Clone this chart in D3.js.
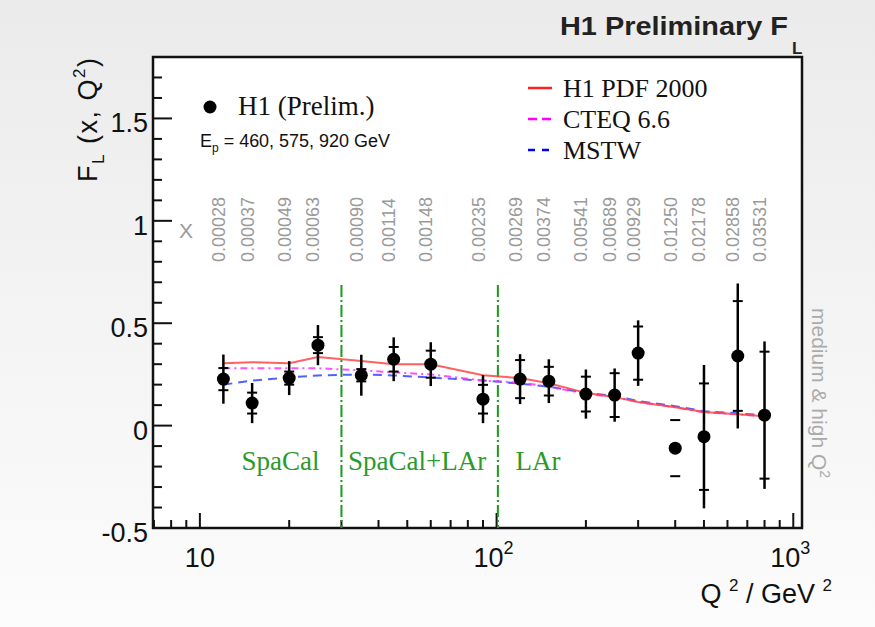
<!DOCTYPE html>
<html>
<head>
<meta charset="utf-8">
<script src="https://cdn.jsdelivr.net/npm/d3@7"></script>
<style>
  html, body { margin: 0; padding: 0; background: #f4f4f4; }
  svg { display: block; }
</style>
</head>
<body>
<svg id="chart" width="875" height="627"></svg>
<script>
// data
const q2 = [12, 15, 20, 25, 35, 45, 60, 90, 120, 150, 200, 250, 300, 400, 500, 650, 800];
const xLabels = ["0.00028", "0.00037", "0.00049", "0.00063", "0.00090", "0.00114", "0.00148",
  "0.00235", "0.00269", "0.00374", "0.00541", "0.00689", "0.00929", "0.01250", "0.02178",
  "0.02858", "0.03531"];
const fl = [0.227, 0.11, 0.232, 0.393, 0.246, 0.324, 0.30, 0.129, 0.227, 0.217, 0.154, 0.149,
  0.354, -0.11, -0.054, 0.34, 0.051];
const statErr = [0.054, 0.051, 0.032, 0.039, 0.03, 0.06, 0.066, 0.07, 0.093, 0.07, 0.085, 0.107,
  0.13, 0.137, 0.26, 0.268, 0.31];
const totErr = [0.12, 0.098, 0.083, 0.098, 0.10, 0.107, 0.107, 0.117, 0.122, 0.107, 0.12, 0.13,
  0.16, 0, 0.35, 0.354, 0.36];
const h1pdf = [0.305, 0.31, 0.305, 0.335, 0.315, 0.30, 0.30, 0.246, 0.232, 0.207, 0.16, 0.139,
  0.115, 0.09, 0.066, 0.056, 0.046];
const cteq = [0.28, 0.28, 0.28, 0.28, 0.27, 0.26, 0.25, 0.22, 0.21, 0.19, 0.155, 0.14, 0.115,
  0.09, 0.065, 0.055, 0.045];
const mstw = [0.20, 0.22, 0.235, 0.245, 0.25, 0.245, 0.235, 0.22, 0.205, 0.19, 0.16, 0.145,
  0.12, 0.095, 0.07, 0.06, 0.05];
const regionCuts = [30, 101];
const regions = [
  { name: "SpaCal", q: 18.7 },
  { name: "SpaCal+LAr", q: 54 },
  { name: "LAr", q: 138 },
];
const yTicks = [-0.5, 0, 0.5, 1, 1.5];

const svg = d3.select("#chart");
const W = 875, H = 627;
const frame = { left: 153, right: 802, top: 57, bottom: 528 };

const x = d3.scaleLog().domain([6.95, 1070]).range([frame.left, frame.right]);
const y = d3.scaleLinear().domain([-0.5, 1.8]).range([frame.bottom, frame.top]);

// background
const defs = svg.append("defs");
const grad = defs.append("linearGradient").attr("id", "bg")
  .attr("x1", 0).attr("y1", 0).attr("x2", 0).attr("y2", 1);
grad.append("stop").attr("offset", "0%").attr("stop-color", "#ebebeb");
grad.append("stop").attr("offset", "100%").attr("stop-color", "#fcfcfc");
svg.append("rect").attr("width", W).attr("height", H).attr("fill", "url(#bg)");
svg.append("rect")
  .attr("x", frame.left).attr("y", frame.top)
  .attr("width", frame.right - frame.left).attr("height", frame.bottom - frame.top)
  .attr("fill", "#fff");

// axes (ticks pointing inward)
const sans = "'Liberation Sans', Arial, Helvetica, sans-serif";
const serif = "'Liberation Serif', 'Times New Roman', serif";

const xMinor = [];
[1, 10, 100].forEach((d) => {
  for (let k = 2; k <= 9; k++) {
    const v = d * k;
    if (v > 6.95 && v < 1070) xMinor.push(v);
  }
});
svg.append("g").selectAll("line").data(xMinor).join("line")
  .attr("x1", (d) => x(d)).attr("x2", (d) => x(d))
  .attr("y1", frame.bottom).attr("y2", frame.bottom - 8)
  .attr("stroke", "#111").attr("stroke-width", 2);
svg.append("g").selectAll("line").data([10, 100, 1000]).join("line")
  .attr("x1", (d) => x(d)).attr("x2", (d) => x(d))
  .attr("y1", frame.bottom).attr("y2", frame.bottom - 15)
  .attr("stroke", "#111").attr("stroke-width", 2);

const yMinor = d3.range(-4, 18).map((k) => k / 10).filter((d) => Math.round(d * 10) % 5 !== 0);
svg.append("g").selectAll("line").data(yMinor).join("line")
  .attr("x1", frame.left).attr("x2", frame.left + 9)
  .attr("y1", (d) => y(d)).attr("y2", (d) => y(d))
  .attr("stroke", "#111").attr("stroke-width", 2);
svg.append("g").selectAll("line").data(yTicks).join("line")
  .attr("x1", frame.left).attr("x2", frame.left + 19)
  .attr("y1", (d) => y(d)).attr("y2", (d) => y(d))
  .attr("stroke", "#111").attr("stroke-width", 2);

svg.append("rect")
  .attr("x", frame.left).attr("y", frame.top)
  .attr("width", frame.right - frame.left).attr("height", frame.bottom - frame.top)
  .attr("fill", "none").attr("stroke", "#111").attr("stroke-width", 2.5);

// tick labels
svg.append("g").selectAll("text").data(yTicks).join("text")
  .attr("x", 148).attr("y", (d) => y(d) + 14)
  .attr("text-anchor", "end")
  .style("font-family", sans).style("font-size", "27px").style("fill", "#111")
  .text((d) => String(d));

const xl = svg.append("g").style("font-family", sans).style("fill", "#111");
xl.append("text").attr("x", x(10)).attr("y", 567).attr("text-anchor", "middle")
  .style("font-size", "27px").text("10");
[[100, "2"], [1000, "3"]].forEach(([v, e]) => {
  const t = xl.append("text").attr("x", x(v) - 3).attr("y", 567).attr("text-anchor", "middle")
    .style("font-size", "27px");
  t.append("tspan").text("10");
  t.append("tspan").attr("dy", -13).style("font-size", "18px").text(e);
});

// axis titles
const xt = svg.append("text").attr("x", 832).attr("y", 603).attr("text-anchor", "end")
  .style("font-family", sans).style("font-size", "27px").style("fill", "#111");
xt.append("tspan").text("Q ");
xt.append("tspan").attr("dy", -12).style("font-size", "17px").text("2");
xt.append("tspan").attr("dy", 12).text(" / GeV ");
xt.append("tspan").attr("dy", -12).style("font-size", "17px").text("2");

const yt = svg.append("text").attr("transform", "translate(97,58) rotate(-90)")
  .attr("text-anchor", "end")
  .attr("textLength", 124).attr("lengthAdjust", "spacing")
  .style("font-family", sans).style("font-size", "27px").style("fill", "#111");
yt.append("tspan").text("F");
yt.append("tspan").attr("dy", 7).style("font-size", "17px").text("L");
yt.append("tspan").attr("dy", -7).text(" (x, Q");
yt.append("tspan").attr("dy", -12).style("font-size", "17px").text("2");
yt.append("tspan").attr("dy", 12).text(")");

// title
svg.append("text").attr("x", 560).attr("y", 35)
  .attr("textLength", 228).attr("lengthAdjust", "spacingAndGlyphs")
  .style("font-family", sans).style("font-size", "25px").style("font-weight", "bold")
  .style("fill", "#222").text("H1 Preliminary F");
svg.append("text").attr("x", 792).attr("y", 54)
  .style("font-family", sans).style("font-size", "17px").style("font-weight", "bold")
  .style("fill", "#222").text("L");

// x values column
svg.append("text").attr("x", 186).attr("y", 238).attr("text-anchor", "middle")
  .style("font-family", sans).style("font-size", "21px").style("fill", "#9a9a9a").text("X");
svg.append("g").selectAll("text").data(xLabels).join("text")
  .attr("transform", (d, i) => `translate(${x(q2[i]) + 1.5},262) rotate(-90)`)
  .style("font-family", sans).style("font-size", "18px").style("fill", "#9a9a9a")
  .text((d) => d);

// right side note
const side = svg.append("text").attr("transform", "translate(812,308) rotate(90)")
  .style("font-family", sans).style("font-size", "21px").style("fill", "#aaa");
side.append("tspan").text("medium & high Q");
side.append("tspan").attr("dy", -8).style("font-size", "14px").text("2");

// region separators
svg.append("g").selectAll("line").data(regionCuts).join("line")
  .attr("x1", (d) => x(d)).attr("x2", (d) => x(d))
  .attr("y1", 285).attr("y2", frame.bottom)
  .attr("stroke", "#1a9a1a").attr("stroke-width", 2)
  .attr("stroke-dasharray", "12,3,2,3");
svg.append("g").selectAll("text").data(regions).join("text")
  .attr("x", (d) => x(d.q)).attr("y", 470).attr("text-anchor", "middle")
  .style("font-family", serif).style("font-size", "27px").style("fill", "#2a9a2a")
  .text((d) => d.name);

// theory curves
const line = d3.line().x((d, i) => x(q2[i])).y((d) => y(d));
const curves = [
  { vals: mstw, color: "#3344ff", dash: "9,6" },
  { vals: cteq, color: "#ff33ff", dash: "7,4,2,4" },
  { vals: h1pdf, color: "#ff4444", dash: null },
];
curves.forEach((c) => {
  svg.append("path").attr("d", line(c.vals))
    .attr("fill", "none").attr("stroke", c.color).attr("stroke-width", 2)
    .attr("stroke-opacity", 0.85)
    .attr("stroke-dasharray", c.dash);
});

// data points with errors
const pts = svg.append("g");
pts.selectAll("line.tot").data(fl).join("line").attr("class", "tot")
  .attr("x1", (d, i) => x(q2[i])).attr("x2", (d, i) => x(q2[i]))
  .attr("y1", (d, i) => y(d + totErr[i])).attr("y2", (d, i) => y(d - totErr[i]))
  .attr("stroke", "#000").attr("stroke-width", 2.5);
[1, -1].forEach((s) => {
  pts.append("g").selectAll("line").data(fl).join("line")
    .attr("x1", (d, i) => x(q2[i]) - 5).attr("x2", (d, i) => x(q2[i]) + 5)
    .attr("y1", (d, i) => y(d + s * statErr[i])).attr("y2", (d, i) => y(d + s * statErr[i]))
    .attr("stroke", "#000").attr("stroke-width", 2);
});
pts.selectAll("circle").data(fl).join("circle")
  .attr("cx", (d, i) => x(q2[i])).attr("cy", (d) => y(d))
  .attr("r", 6.5).attr("fill", "#000");

// legends
svg.append("circle").attr("cx", 210).attr("cy", 107).attr("r", 6.5).attr("fill", "#000");
svg.append("text").attr("x", 238).attr("y", 115)
  .style("font-family", serif).style("font-size", "27px").style("fill", "#111")
  .text("H1 (Prelim.)");
const ep = svg.append("text").attr("x", 200).attr("y", 147)
  .attr("textLength", 190).attr("lengthAdjust", "spacingAndGlyphs")
  .style("font-family", sans).style("font-size", "18px").style("fill", "#111");
ep.append("tspan").text("E");
ep.append("tspan").attr("dy", 5).style("font-size", "12px").text("p");
ep.append("tspan").attr("dy", -5).text(" = 460, 575, 920 GeV");

const legendRows = [
  { label: "H1 PDF 2000", color: "#ff2222", dash: null },
  { label: "CTEQ 6.6", color: "#ff00ff", dash: "9,5" },
  { label: "MSTW", color: "#0000ff", dash: "7,7" },
];
const legY = d3.scalePoint().domain(legendRows.map((d) => d.label)).range([88, 150]);
const leg = svg.append("g").selectAll("g").data(legendRows).join("g");
leg.append("line")
  .attr("x1", 528).attr("x2", 552)
  .attr("y1", (d) => legY(d.label)).attr("y2", (d) => legY(d.label))
  .attr("stroke", (d) => d.color).attr("stroke-width", 2.5)
  .attr("stroke-dasharray", (d) => d.dash);
leg.append("text").attr("x", 563).attr("y", (d) => legY(d.label) + 9)
  .style("font-family", serif).style("font-size", "26px").style("fill", "#111")
  .text((d) => d.label);
</script>
</body>
</html>
